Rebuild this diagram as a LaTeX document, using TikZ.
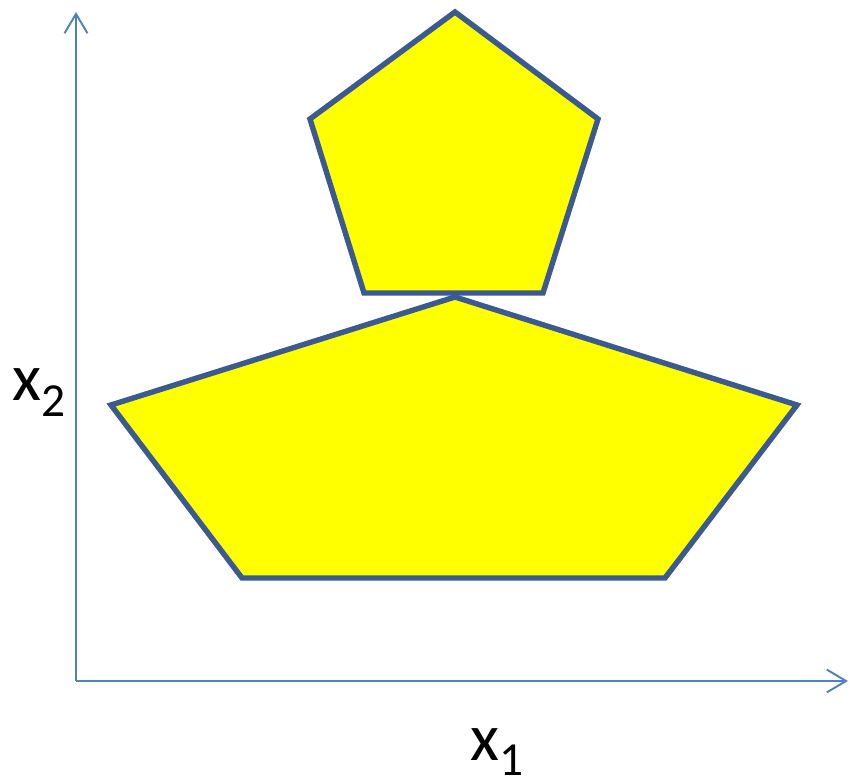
\documentclass[tikz,border=0pt]{standalone}
\usepackage{fontspec}
\setmainfont{Carlito}
\usetikzlibrary{arrows.meta}
\definecolor{axisblue}{RGB}{79,129,189}
\definecolor{edgeblue}{RGB}{59,90,145}
\definecolor{fillyellow}{RGB}{255,255,0}

\begin{document}
\begin{tikzpicture}[x=0.02cm, y=-0.02cm,
    axis/.style={axisblue, line width=1.1pt, -{Straight Barb[length=11pt, width=13pt, line width=1.1pt]}},
    pent/.style={draw=edgeblue, fill=fillyellow, line width=3.1pt, line join=miter},
    lab/.style={inner sep=0pt, anchor=base west, font=\fontsize{38}{40}\selectfont}]
  \useasboundingbox (0,0) rectangle (850,783);
  % Axes
  \coordinate (origin) at (76,681);
  \coordinate (ytop) at (76,12);
  \coordinate (xend) at (848,681);
  \draw[axis] (origin) -- (ytop);
  \draw[axis] (origin) -- (xend);

  % Large pentagon
  \draw[pent] (455,297) -- (797,405) -- (665,578) -- (242,578) -- (111,405) -- cycle;
  % Small pentagon
  \draw[pent] (455,12) -- (598,119) -- (543,293) -- (364,293) -- (310,119) -- cycle;

  % Labels
  \node[lab] (xtwo) at (12,401) {x\raisebox{-9pt}{\fontsize{27}{29}\selectfont 2}};
  \node[lab] (xone) at (470,761) {x\raisebox{-8.5pt}{\fontsize{27}{29}\selectfont 1}};
\end{tikzpicture}
\end{document}
